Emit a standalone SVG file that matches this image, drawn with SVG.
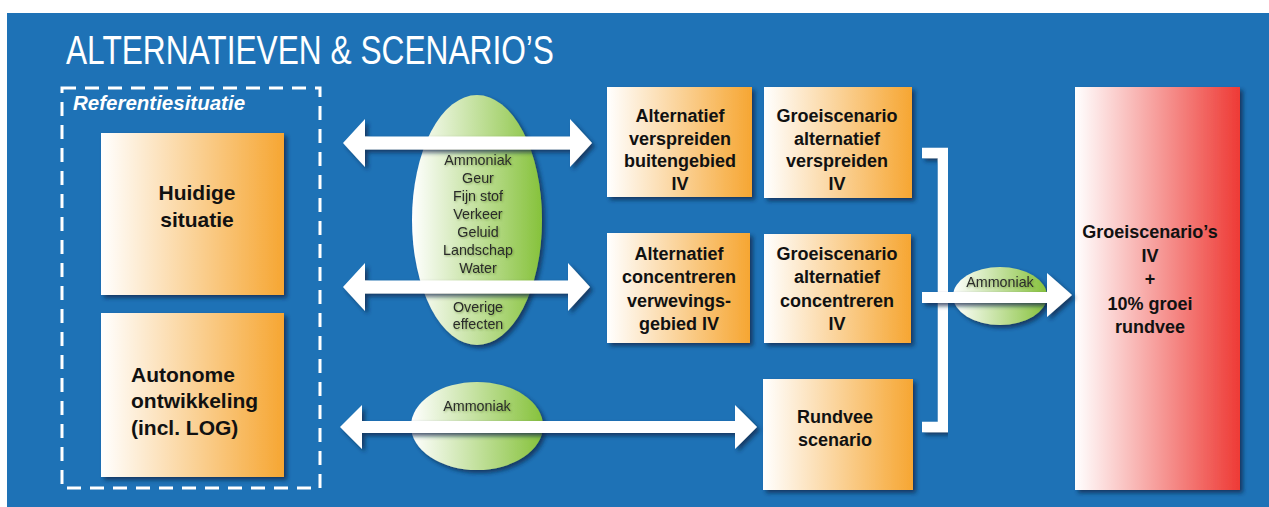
<svg xmlns="http://www.w3.org/2000/svg" width="1269" height="507" viewBox="0 0 1269 507">
<defs>
<linearGradient id="gOrange" x1="0" y1="0" x2="1" y2="0">
<stop offset="0" stop-color="#FFFFFF"/><stop offset="1" stop-color="#F6A632"/>
</linearGradient>
<linearGradient id="gGreen" x1="0" y1="0" x2="1" y2="0">
<stop offset="0" stop-color="#FFFFFF"/><stop offset="1" stop-color="#86C23B"/>
</linearGradient>
<linearGradient id="gRed" x1="0" y1="0" x2="1" y2="0">
<stop offset="0" stop-color="#FFFFFF"/><stop offset="1" stop-color="#EE3A35"/>
</linearGradient>
<filter id="sh" x="-20%" y="-20%" width="140%" height="140%">
<feDropShadow dx="3" dy="3" stdDeviation="2" flood-color="#0B2A4A" flood-opacity="0.75"/>
</filter>
<filter id="tsh" x="-20%" y="-40%" width="140%" height="180%">
<feDropShadow dx="1" dy="1" stdDeviation="1.2" flood-color="#3d5a1e" flood-opacity="0.45"/>
</filter>
</defs>
<style>
.box{filter:url(#sh)}
.or{fill:url(#gOrange)}
.gr{fill:url(#gGreen)}
.bt{font-family:"Liberation Sans",Arial,sans-serif;font-weight:bold;font-size:18px;fill:#111;text-anchor:middle}
.bl{font-size:21px}
.st{text-anchor:start}
.et{font-family:"Liberation Sans",Arial,sans-serif;font-size:14.3px;fill:#2a2a2a;text-anchor:middle;filter:url(#tsh)}
.arr{fill:#FFFFFF;filter:url(#sh)}
</style>
<rect x="0" y="0" width="1269" height="507" fill="#FFFFFF"/>
<rect x="7" y="13" width="1262" height="494" fill="#1E72B6"/>
<text x="66" y="64" font-family="Liberation Sans,Arial,sans-serif" font-size="40" fill="#FFFFFF" textLength="488" lengthAdjust="spacingAndGlyphs">ALTERNATIEVEN &amp; SCENARIO’S</text>

<g id="referentiesituatie">
<rect x="62" y="88" width="258" height="400" fill="none" stroke="#FFFFFF" stroke-width="3" stroke-dasharray="14 9"/>
<text x="73" y="110" font-family="Liberation Sans,Arial,sans-serif" font-weight="bold" font-style="italic" font-size="20.5" fill="#FFFFFF">Referentiesituatie</text>
</g>

<g id="huidige-situatie">
<rect class="box or" x="101" y="133" width="183" height="162"/>
<text class="bt bl" x="197" y="200">Huidige</text>
<text class="bt bl" x="197" y="227">situatie</text>
</g>

<g id="autonome-ontwikkeling">
<rect class="box or" x="101" y="313" width="183" height="164"/>
<text class="bt bl st" x="131" y="382">Autonome</text>
<text class="bt bl st" x="131" y="408">ontwikkeling</text>
<text class="bt bl st" x="131" y="435">(incl. LOG)</text>
</g>

<g id="effecten">
<ellipse class="box gr" cx="477" cy="220" rx="65" ry="125"/>
<text class="et" x="478" y="165">Ammoniak</text>
<text class="et" x="478" y="183">Geur</text>
<text class="et" x="478" y="201">Fijn stof</text>
<text class="et" x="478" y="219">Verkeer</text>
<text class="et" x="478" y="237">Geluid</text>
<text class="et" x="478" y="255">Landschap</text>
<text class="et" x="478" y="273">Water</text>
<text class="et" x="478" y="312">Overige</text>
<text class="et" x="478" y="329">effecten</text>
</g>

<g id="ammoniak-onder">
<ellipse class="box gr" cx="477" cy="426" rx="66" ry="44"/>
<text class="et" x="477" y="411">Ammoniak</text>
</g>

<g id="ammoniak-rechts">
<ellipse class="box gr" cx="1000" cy="296" rx="47" ry="29"/>
<text class="et" x="1000" y="287">Ammoniak</text>
</g>

<g id="alternatief-verspreiden">
<rect class="box or" x="607" y="87" width="145" height="110"/>
<text class="bt" x="680" y="122">Alternatief</text>
<text class="bt" x="680" y="145">verspreiden</text>
<text class="bt" x="680" y="167">buitengebied</text>
<text class="bt" x="680" y="190">IV</text>
</g>

<g id="groeiscenario-verspreiden">
<rect class="box or" x="764" y="87" width="148" height="111"/>
<text class="bt" x="837" y="122">Groeiscenario</text>
<text class="bt" x="837" y="145">alternatief</text>
<text class="bt" x="837" y="167">verspreiden</text>
<text class="bt" x="837" y="190">IV</text>
</g>

<g id="alternatief-concentreren">
<rect class="box or" x="607" y="233" width="143" height="110"/>
<text class="bt" x="679" y="260">Alternatief</text>
<text class="bt" x="679" y="283">concentreren</text>
<text class="bt" x="679" y="307">verwevings-</text>
<text class="bt" x="679" y="330">gebied IV</text>
</g>

<g id="groeiscenario-concentreren">
<rect class="box or" x="764" y="234" width="147" height="109"/>
<text class="bt" x="837" y="260">Groeiscenario</text>
<text class="bt" x="837" y="283">alternatief</text>
<text class="bt" x="837" y="307">concentreren</text>
<text class="bt" x="837" y="330">IV</text>
</g>

<g id="rundvee-scenario">
<rect class="box or" x="763" y="379" width="150" height="111"/>
<text class="bt" x="835" y="423">Rundvee</text>
<text class="bt" x="835" y="446">scenario</text>
</g>

<g id="groeiscenarios-totaal">
<rect class="box" x="1075" y="87" width="165" height="403" fill="url(#gRed)"/>
<text class="bt" x="1150" y="238">Groeiscenario’s</text>
<text class="bt" x="1150" y="262">IV</text>
<text class="bt" x="1150" y="285">+</text>
<text class="bt" x="1150" y="310">10% groei</text>
<text class="bt" x="1150" y="333">rundvee</text>
</g>

<g id="connectors">
<polygon class="arr" points="343,143 365,119 365,136.5 570,136.5 570,119 592,143 570,167 570,149.5 365,149.5 365,167"/>
<polygon class="arr" points="343,287 365,263 365,280.5 568,280.5 568,263 590,287 568,311 568,293.5 365,293.5 365,311"/>
<polygon class="arr" points="340,427 362,405 362,421 735,421 735,405 757,427 735,449 735,433 362,433 362,449"/>
<path d="M922,153 H943 V427 H922" fill="none" stroke="#FFFFFF" stroke-width="10.5" style="filter:url(#sh)"/>
<polygon class="arr" points="922,292 1047,292 1047,273 1072,295 1047,317 1047,303 922,303"/>
</g>
</svg>
